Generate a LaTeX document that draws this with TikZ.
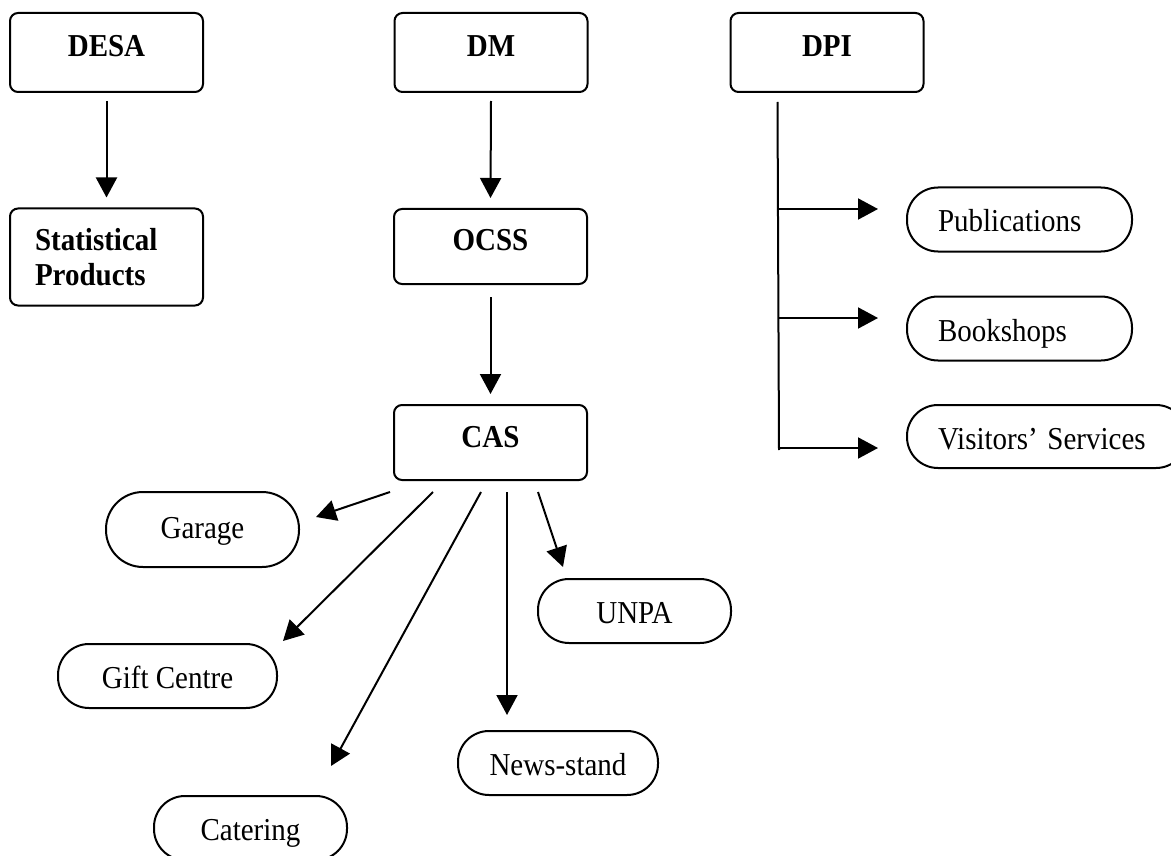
\documentclass[tikz,border=0pt]{standalone}
\usepackage{fontspec}
\setmainfont{Liberation Serif}
\usetikzlibrary{arrows.meta,calc}
\newcommand{\vst}[1]{\scalebox{1}[1.1]{#1}}
\begin{document}
\begin{tikzpicture}[x=1pt,y=-1pt,
  every node/.style={font=\fontsize{29}{35}\selectfont},
  box/.style={draw, line width=2pt, rounded corners=8pt, minimum width=193pt,
    inner sep=0pt, font=\fontsize{29}{35}\selectfont\bfseries},
  boxtxt/.style={text height=21pt, text depth=12pt},
  pill/.style={draw, line width=2pt, rounded corners=31pt, inner sep=0pt,
    minimum height=64pt, text height=28pt, text depth=3pt},
  lpill/.style={pill, align=left, inner xsep=31pt},
  arr/.style={line width=2pt, -{Triangle[length=20pt,width=21pt]}},
  ln/.style={line width=2pt}
]
\useasboundingbox (0,0) rectangle (1171,856);

% top boxes
\node[box, boxtxt, minimum height=79pt] (DESA) at (106.5,52.5) {\vst{DESA}};
\node[box, boxtxt, minimum height=79pt] (DM)   at (491,52.5)   {\vst{DM}};
\node[box, boxtxt, minimum height=79pt] (DPI)  at (827,52.5)   {\vst{DPI}};

\node[box, minimum height=97pt, text width=143pt, inner xsep=25pt, align=left]
  (SP) at (106.5,257) {\vst{Statistical}\\\vst{Products}};
\node[box, boxtxt, minimum height=75pt] (OCSS) at (490.5,246.5) {\vst{OCSS}};
\node[box, boxtxt, minimum height=75pt] (CAS)  at (490.5,442.5) {\vst{CAS}};

% DPI children
\node[lpill, text width=163pt] (PUB)  at (1019.5,219.5) {\vst{Publications}};
\node[lpill, text width=163pt] (BOOK) at (1019.5,328.5) {\vst{Bookshops}};
\node[lpill, text width=218pt, minimum height=63pt] (VIS) at (1047,436.5) {\vst{Visitors’ Services}};

% CAS children
\node[pill, minimum width=193pt, minimum height=75pt, rounded corners=37pt,
      text height=28pt, text depth=11pt] (GAR) at (202.5,529.5) {\vst{Garage}};
\node[pill, minimum width=219pt] (GIFT) at (167.5,676) {\vst{Gift Centre}};
\node[pill, minimum width=193pt, text depth=4pt] (CAT) at (250.5,828) {\vst{Catering}};
\node[pill, minimum width=193pt, text depth=4pt] (UNPA) at (634.5,611) {\vst{UNPA}};
\node[pill, minimum width=200pt, text depth=4pt] (NEWS) at (558,763) {\vst{News-stand}};

% vertical chains
\draw[arr] ($(DESA.south)+(0,8)$) -- ($(SP.north)+(0,-10)$);
\draw[arr] ($(DM.south)+(0,8)$) -- ($(OCSS.north)+(0,-10)$);
\draw[arr] ($(OCSS.south)+(0,12)$) -- ($(CAS.north)+(0,-10)$);

% DPI bracket
\coordinate (dtop) at ($(DPI.south west)+(48,9)$);
\coordinate (dbot) at (779,450);
\coordinate (b1) at (779,209);
\coordinate (b2) at (779,318);
\coordinate (b3) at (779,448);
\coordinate (e1) at (878,209);
\coordinate (e2) at (878,318);
\coordinate (e3) at (878,448);
\draw[ln] (dtop) -- (dbot);
\draw[arr] (b1) -- (e1);
\draw[arr] (b2) -- (e2);
\draw[arr] (b3) -- (e3);

% CAS fan
\coordinate (c1) at (390,492);
\coordinate (c2) at (433,492);
\coordinate (c3) at (481,492);
\coordinate (c4) at (507,492);
\coordinate (c5) at (538,492);
\coordinate (t1) at (316,517);
\coordinate (t2) at (283,641);
\coordinate (t3) at (331,766);
\coordinate (t4) at (507,715);
\coordinate (t5) at (563,567);
\draw[arr] (c1) -- (t1);
\draw[arr] (c2) -- (t2);
\draw[arr] (c3) -- (t3);
\draw[arr] (c4) -- (t4);
\draw[arr] (c5) -- (t5);
\end{tikzpicture}
\end{document}
